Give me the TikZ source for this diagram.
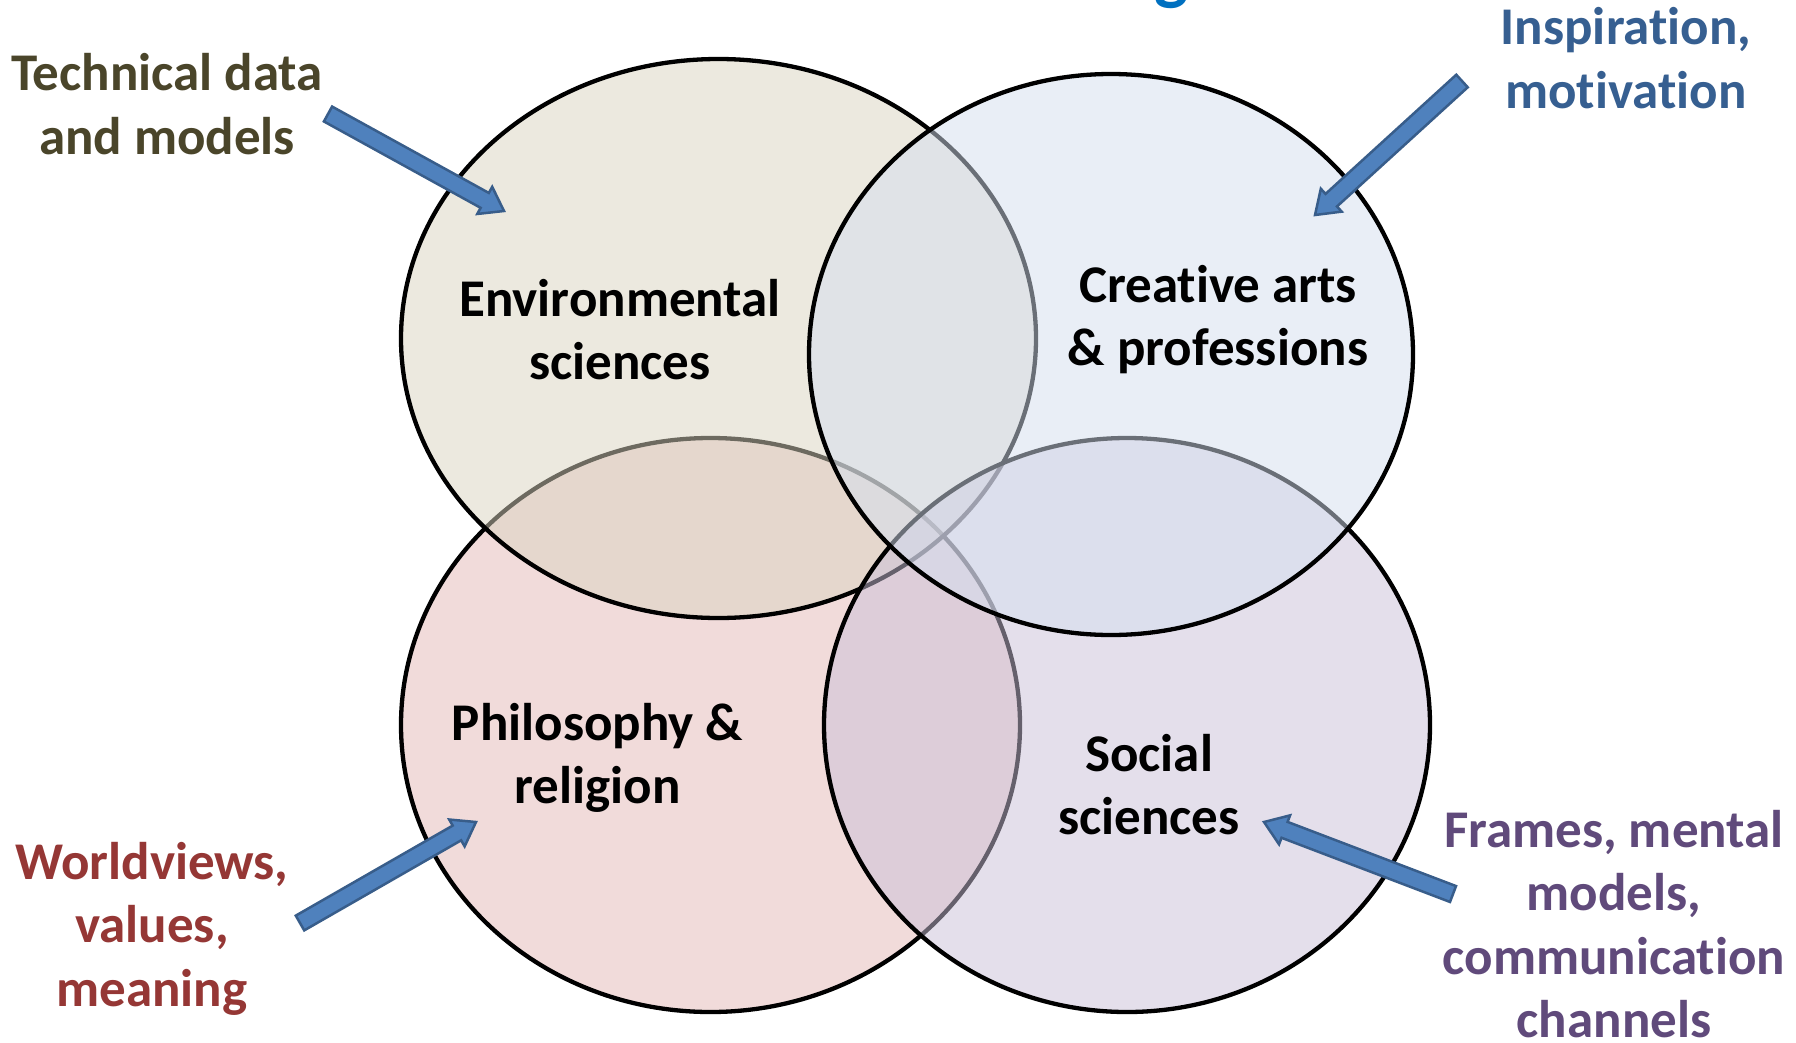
\documentclass[tikz,border=0pt]{standalone}
\usepackage{fontspec}
\setmainfont{Carlito}[Ligatures=NoCommon]
\usetikzlibrary{calc,shapes.geometric}
\definecolor{envfill}{RGB}{219,213,193}
\definecolor{crefill}{RGB}{213,223,239}
\definecolor{phifill}{RGB}{229,185,183}
\definecolor{socfill}{RGB}{203,193,217}
\definecolor{olivetxt}{HTML}{4A452A}
\definecolor{bluetxt}{HTML}{365F91}
\definecolor{redtxt}{HTML}{953735}
\definecolor{purpletxt}{HTML}{604A7B}
\definecolor{titleblue}{HTML}{0070C0}
\definecolor{arrfill}{HTML}{4F81BD}
\definecolor{arrline}{HTML}{385D8A}
\newcommand\blockarr[2]{%
  \path coordinate (hb) at ($(#2)!22pt!(#1)$);
  \draw[barrow] ($(#1)!8.5pt!90:(#2)$) -- ($(hb)!8.5pt!90:(#2)$) -- ($(hb)!15.5pt!90:(#2)$) -- (#2)
    -- ($(hb)!15.5pt!-90:(#2)$) -- ($(hb)!8.5pt!-90:(#2)$) -- ($(#1)!8.5pt!-90:(#2)$) -- cycle;}
\begin{document}
\begin{tikzpicture}[x=1pt,y=-1pt,
  vennset/.style={ellipse, draw=black, line width=4.3pt, fill opacity=0.5, draw opacity=1, inner sep=0pt, outer sep=0pt},
  inlabel/.style={font=\fontsize{53}{63}\selectfont\bfseries, align=center, text=black, inner sep=0pt, anchor=base},
  outlabel/.style={font=\fontsize{53}{63.5}\selectfont\bfseries, align=center, inner sep=0pt, anchor=base},
  barrow/.style={fill=arrfill, draw=arrline, line width=2.5pt, line join=miter}]
\useasboundingbox (0,0) rectangle (1796,1042);
\clip (0,0) rectangle (1796,1042);
\fill[white] (0,0) rectangle (1796,1042);
% title remnant
\node[font=\fontsize{72}{80}\selectfont\bfseries, text=titleblue, anchor=base, inner sep=0pt] (titleg) at (1172,-4) {g};
% sets
\node[vennset, fill=phifill, minimum width=619pt, minimum height=574pt] (phil) at (710.5,725) {};
\node[vennset, fill=envfill, minimum width=635pt, minimum height=559pt] (env) at (718.5,338.5) {};
\node[vennset, fill=socfill, minimum width=606pt, minimum height=574pt] (soc) at (1127,725) {};
\node[vennset, fill=crefill, minimum width=604pt, minimum height=561pt] (cre) at (1111,354.5) {};
% inner labels (anchor = baseline of last line)
\node[inlabel] (envl) at (620,379) {Environmental\\sciences};
\node[inlabel] (crel) at (1218,365) {Creative arts\\\& professions};
\node[inlabel] (phill) at (597.5,803) {Philosophy \&\\religion};
\node[inlabel] (socl) at (1149,834) {Social\\sciences};
% outer labels
\node[outlabel, text=olivetxt] (techl) at (167,154) {Technical data\\and models};
\node[outlabel, text=bluetxt] (inspl) at (1626,108) {Inspiration,\\motivation};
\node[outlabel, text=redtxt] (worldl) at (152,1006) {Worldviews,\\values,\\meaning};
\node[outlabel, text=purpletxt] (framel) at (1614,1037.5) {Frames, mental\\models,\\communication\\channels};
% arrows
\coordinate (a1t) at (328,114); \coordinate (a1h) at (504,211);
\coordinate (a2t) at (1462,81); \coordinate (a2h) at (1315,215);
\coordinate (a3t) at (300,923); \coordinate (a3h) at (476,822);
\coordinate (a4t) at (1453,894); \coordinate (a4h) at (1264,822);
\blockarr{a1t}{a1h}
\blockarr{a2t}{a2h}
\blockarr{a3t}{a3h}
\blockarr{a4t}{a4h}
\end{tikzpicture}
\end{document}
